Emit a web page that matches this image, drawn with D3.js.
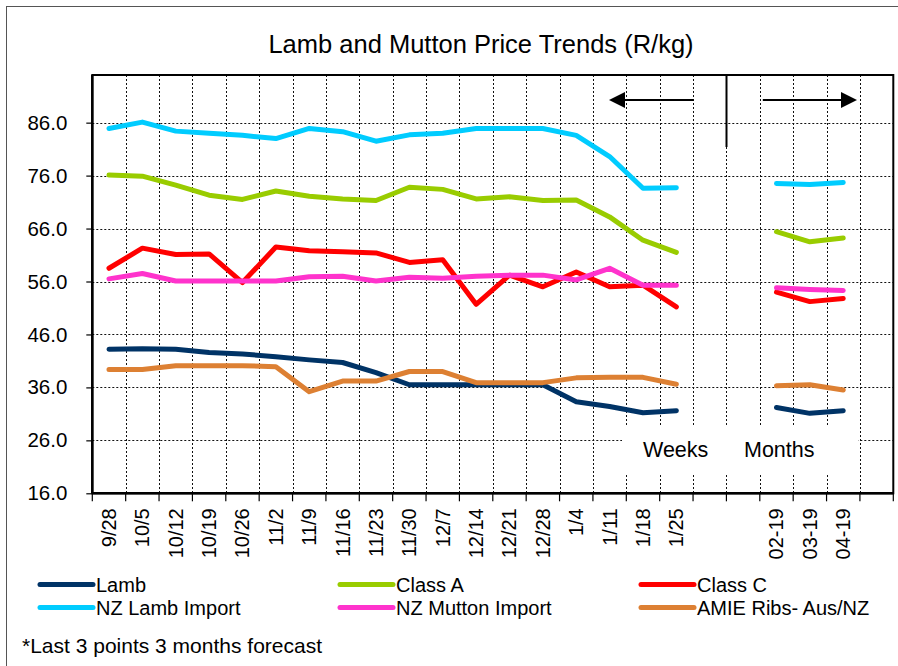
<!DOCTYPE html>
<html><head><meta charset="utf-8">
<script src="https://cdn.jsdelivr.net/npm/d3@7"></script>
<style>
body{margin:0;background:#fff;}
text{font-family:"Liberation Sans",Arial,sans-serif;fill:#000;}
</style></head>
<body><svg id="c" width="898" height="666"></svg>
<script>
const categories = ["9/28","10/5","10/12","10/19","10/26","11/2","11/9","11/16","11/23","11/30","12/7","12/14","12/21","12/28","1/4","1/11","1/18","1/25","","","02-19","03-19","04-19",""];
const yTicks = [16,26,36,46,56,66,76,86];
const seriesNames = ["Lamb","Class A","Class C","NZ Lamb Import","NZ Mutton Import","AMIE Ribs- Aus/NZ"];
const seriesColors = ["#003366","#99CC00","#FF0000","#00CCFF","#FF33CC","#DD8033"];
const lamb      = [43.2,43.3,43.2,42.6,42.3,41.8,41.2,40.7,38.8,36.5,36.5,36.5,36.5,36.5,33.3,32.4,31.2,31.6,null,null,32.2,31.1,31.6,null];
const classA    = [76.1,75.9,74.2,72.3,71.5,73.1,72.1,71.6,71.3,73.8,73.4,71.6,72.0,71.3,71.4,68.2,63.8,61.5,null,null,65.4,63.5,64.2,null];
const classC    = [58.5,62.3,61.1,61.2,55.8,62.5,61.8,61.6,61.4,59.6,60.1,51.7,57.2,55.0,57.8,55.0,55.3,51.2,null,null,54.0,52.2,52.8,null];
const nzLamb    = [84.9,86.1,84.4,84.0,83.6,83.0,84.9,84.3,82.5,83.7,84.0,84.9,84.9,84.9,83.6,79.6,73.6,73.7,null,null,74.5,74.3,74.7,null];
const nzMutton  = [56.5,57.5,56.1,56.1,56.1,56.1,56.9,57.0,56.1,56.8,56.6,57.0,57.2,57.2,56.3,58.5,55.3,55.3,null,null,54.8,54.5,54.3,null];
const amie      = [39.4,39.4,40.1,40.1,40.1,39.9,35.2,37.2,37.2,39.0,39.0,36.9,36.9,36.9,37.8,37.9,37.9,36.6,null,null,36.3,36.5,35.5,null];
const seriesValues = [lamb,classA,classC,nzLamb,nzMutton,amie];

const svg = d3.select("#c");
const L=92.3, R=893.3, T=75, B=493.3;
const x = d3.scaleBand().domain(d3.range(categories.length)).range([L,R]).paddingInner(0).paddingOuter(0);
const y = d3.scaleLinear().domain([16,95]).range([B,T]);

// outer frame
svg.append("rect").attr("x",6.5).attr("y",6.5).attr("width",910).attr("height",700)
  .attr("fill","none").attr("stroke","#555").attr("stroke-width",1);

// title
svg.append("text").attr("x",481).attr("y",53).attr("text-anchor","middle")
  .style("font-size","25.5px").text("Lamb and Mutton Price Trends (R/kg)");

// gridlines
const g = svg.append("g");
yTicks.filter(d=>d>16).forEach(v=>{
  g.append("line").attr("x1",L).attr("x2",R).attr("y1",Math.round(y(v))+0.5).attr("y2",Math.round(y(v))+0.5)
   .attr("stroke","#111").attr("stroke-width",1).attr("stroke-dasharray","2,2");
});
d3.range(1,categories.length).forEach(i=>{
  const xx = Math.round(x(i))+0.5;
  g.append("line").attr("x1",xx).attr("x2",xx).attr("y1",T).attr("y2",B)
   .attr("stroke","#111").attr("stroke-width",1).attr("stroke-dasharray","2,2");
});

// white box for Weeks / Months
svg.append("rect").attr("x",622).attr("y",425).attr("width",236).attr("height",50).attr("fill","#fff");
svg.append("text").attr("x",643).attr("y",457).style("font-size","21.5px").text("Weeks");
svg.append("text").attr("x",744).attr("y",457).style("font-size","21.5px").text("Months");

// divider and arrows
const divX = Math.round(x(19))+0.5;
svg.append("line").attr("x1",divX).attr("x2",divX).attr("y1",T).attr("y2",147).attr("stroke","#000").attr("stroke-width",2);
const ay = 100;
svg.append("line").attr("x1",x(18)+0.5).attr("x2",620).attr("y1",ay).attr("y2",ay).attr("stroke","#000").attr("stroke-width",2);
svg.append("path").attr("d",`M609,${ay} L625,${ay-8} L625,${ay+8} Z`).attr("fill","#000");
svg.append("line").attr("x1",x(20)+3).attr("x2",845).attr("y1",ay).attr("y2",ay).attr("stroke","#000").attr("stroke-width",2);
svg.append("path").attr("d",`M857,${ay} L841,${ay-8} L841,${ay+8} Z`).attr("fill","#000");

// lines
const line = d3.line().defined(d=>d!=null).x((d,i)=>x(i)+x.bandwidth()/2).y(d=>y(d));
seriesValues.forEach((vals,k)=>{
  svg.append("path").datum(vals).attr("d",line).attr("fill","none")
    .attr("stroke",seriesColors[k]).attr("stroke-width",5).attr("stroke-linejoin","round").attr("stroke-linecap","round");
});

// plot border
svg.append("rect").attr("x",L).attr("y",T).attr("width",R-L).attr("height",B-T)
  .attr("fill","none").attr("stroke","#000").attr("stroke-width",2);

// y axis
const yAxis = svg.append("g").attr("transform",`translate(${L},0)`)
  .call(d3.axisLeft(y).tickValues(yTicks).tickFormat(d3.format(".1f")).tickSize(6).tickPadding(19));
yAxis.select(".domain").attr("stroke-width",2.5).attr("d",`M0,${T}V${B}`);
yAxis.selectAll(".tick line").attr("stroke-width",1.2);
yAxis.selectAll("text").style("font-size","20.5px").attr("font-family",null);

// x axis
const xAxis = svg.append("g").attr("transform",`translate(0,${B})`)
  .call(d3.axisBottom(x).tickFormat(i=>categories[i]).tickSize(0).tickPadding(0));
xAxis.select(".domain").attr("stroke-width",2.5).attr("d",`M${L},0H${R}`);
xAxis.selectAll(".tick text").attr("transform","rotate(-90)").attr("text-anchor","end")
  .attr("x",-15).attr("y",0).attr("dy","0.35em").style("font-size","20px").attr("font-family",null);
d3.range(0,categories.length+1).forEach(i=>{
  const xx = i===categories.length ? R : x(i);
  xAxis.append("line").attr("x1",xx).attr("x2",xx).attr("y1",0).attr("y2",8).attr("stroke","#000").attr("stroke-width",1.2);
});

// legend
const legX = [40,340,641], legY=[584.5,607.5];
seriesNames.forEach((n,k)=>{
  const col=k%3, row=Math.floor(k/3);
  const lg = svg.append("g");
  lg.append("line").attr("x1",legX[col]).attr("x2",legX[col]+53).attr("y1",legY[row]).attr("y2",legY[row])
    .attr("stroke",seriesColors[k]).attr("stroke-width",5).attr("stroke-linecap","round");
  lg.append("text").attr("x",legX[col]+56).attr("y",legY[row]).attr("dy","0.35em").style("font-size","20px").text(n);
});
svg.append("text").attr("x",22).attr("y",653).style("font-size","21px").text("*Last 3 points 3 months forecast");
</script></body></html>
